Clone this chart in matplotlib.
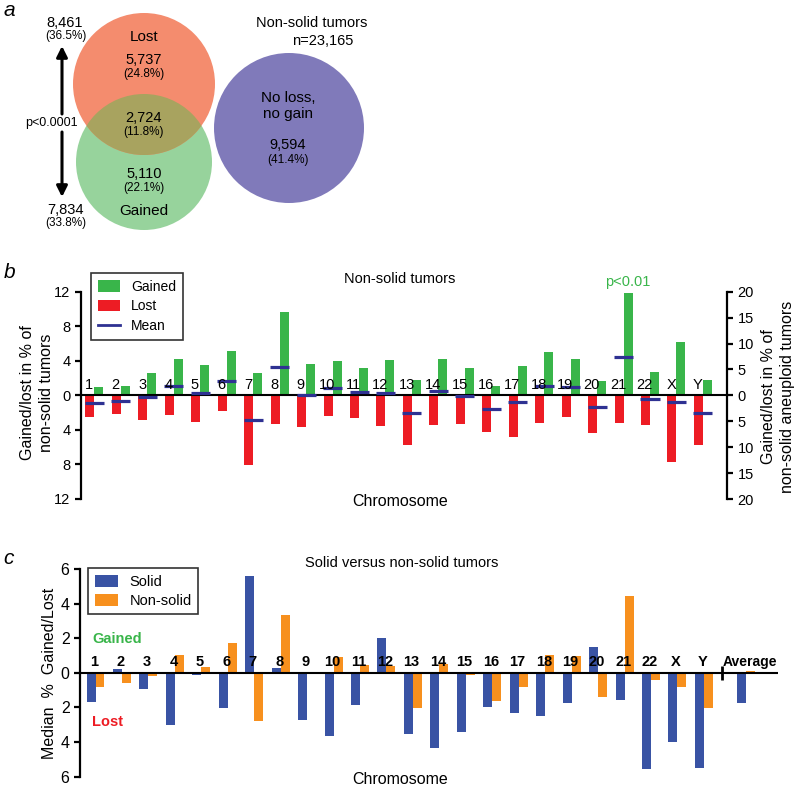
import numpy as np
import matplotlib
matplotlib.use('Agg')
import matplotlib.pyplot as plt
from matplotlib.patches import Circle, Patch
from matplotlib.lines import Line2D

plt.rcParams['font.family'] = ['Liberation Sans', 'DejaVu Sans']

# panel a: Venn counts
venn_lost = ('5,737', '(24.8%)')
venn_both = ('2,724', '(11.8%)')
venn_gained = ('5,110', '(22.1%)')
venn_none = ('9,594', '(41.4%)')
total_lost = ('8,461', '(36.5%)')
total_gained = ('7,834', '(33.8%)')

# panel b: non-solid tumors, % gained / lost per chromosome
chroms = [str(i) for i in range(1, 23)] + ['X', 'Y']
gained = [1.0, 1.1, 2.55, 4.2, 3.55, 5.1, 2.6, 9.7, 3.6, 4.0, 3.2, 4.1,
          1.8, 4.25, 3.2, 1.05, 3.35, 5.0, 4.2, 1.7, 11.85, 2.75, 6.2, 1.75]
lost = [2.5, 2.2, 2.8, 2.3, 3.1, 1.85, 8.1, 3.3, 3.7, 2.4, 2.6, 3.55,
        5.8, 3.4, 3.3, 4.2, 4.8, 3.15, 2.5, 4.35, 3.2, 3.45, 7.7, 5.75]
mean = [-0.85, -0.6, -0.2, 1.1, 0.3, 1.65, -2.85, 3.3, 0.0, 0.9, 0.4, 0.3,
        -2.0, 0.55, -0.1, -1.6, -0.75, 1.05, 0.95, -1.35, 4.4, -0.4, -0.75, -2.1]

# panel c: median % gained (+) / lost (-), solid vs non-solid
solid = [-1.7, 0.2, -0.95, -3.0, -0.15, -2.05, 5.6, 0.27, -2.7, -3.65, -1.84, 2.03,
         -3.55, -4.35, -3.42, -1.95, -2.32, -2.47, -1.72, 1.47, -1.58, -5.57, -3.98, -5.49]
nonsolid = [-0.83, -0.58, -0.17, 1.06, 0.33, 1.72, -2.8, 3.36, -0.02, 0.93, 0.43, 0.37,
            -2.03, 0.52, -0.14, -1.62, -0.81, 1.02, 0.95, -1.39, 4.42, -0.39, -0.81, -2.05]
avg_solid = -1.76
avg_nonsolid = 0.13

GREEN = '#39b54a'
RED = '#ed1c24'
NAVY = '#2e3192'
BLUE = '#3953a4'
ORANGE = '#f7901e'

W, H = 800, 788
fig = plt.figure(figsize=(W / 100, H / 100), dpi=100)


def fx(px):
    return px / W


def fy(py):
    return 1 - py / H


# ---------------- panel a ----------------
axa = fig.add_axes([0, fy(240), fx(400), 240 / H])
axa.set_xlim(0, 400)
axa.set_ylim(240, 0)
axa.axis('off')

g = Circle((144, 162), 68, facecolor='#97d39c', edgecolor='none')
l = Circle((144, 84), 71, facecolor='#f48c6e', edgecolor='none')
axa.add_patch(g)
axa.add_patch(l)
ov = Circle((144, 162), 68, facecolor='#a8a35f', edgecolor='none')
axa.add_patch(ov)
ov.set_clip_path(l)
axa.add_patch(Circle((289, 128), 75, facecolor='#807aba', edgecolor='none'))

big, small = 10.5, 8.5
axa.text(144, 37, 'Lost', ha='center', va='center', fontsize=11)
axa.text(144, 60, venn_lost[0], ha='center', va='center', fontsize=big)
axa.text(144, 74, venn_lost[1], ha='center', va='center', fontsize=small)
axa.text(144, 118, venn_both[0], ha='center', va='center', fontsize=big)
axa.text(144, 132, venn_both[1], ha='center', va='center', fontsize=small)
axa.text(144, 174, venn_gained[0], ha='center', va='center', fontsize=big)
axa.text(144, 188, venn_gained[1], ha='center', va='center', fontsize=small)
axa.text(144, 211, 'Gained', ha='center', va='center', fontsize=11)
axa.text(288, 98, 'No loss,', ha='center', va='center', fontsize=11)
axa.text(288, 114, 'no gain', ha='center', va='center', fontsize=11)
axa.text(288, 145, venn_none[0], ha='center', va='center', fontsize=big)
axa.text(288, 160, venn_none[1], ha='center', va='center', fontsize=small)
axa.text(312, 23, 'Non-solid tumors', ha='center', va='center', fontsize=10.5)
axa.text(323, 41, 'n=23,165', ha='center', va='center', fontsize=10.5)

axa.text(65, 23, total_lost[0], ha='center', va='center', fontsize=big)
axa.text(66, 36, total_lost[1], ha='center', va='center', fontsize=small)
axa.text(65, 210, total_gained[0], ha='center', va='center', fontsize=big)
axa.text(66, 223, total_gained[1], ha='center', va='center', fontsize=small)
axa.text(51, 123, 'p<0.0001', ha='center', va='center', fontsize=9)
arrow = dict(arrowstyle='-|>', lw=2.2, color='black', mutation_scale=16, shrinkA=0, shrinkB=0)
axa.annotate('', xy=(62, 46), xytext=(62, 114), arrowprops=arrow)
axa.annotate('', xy=(62, 197), xytext=(62, 132), arrowprops=arrow)

# ---------------- panel b ----------------
pos = np.arange(1, 25)
axb = fig.add_axes([fx(81), fy(499), fx(727 - 81), (499 - 291.7) / H])
bw = 0.34
axb.bar(pos + bw / 2, gained, width=bw, color=GREEN, zorder=2)
axb.bar(pos - bw / 2, -np.array(lost), width=bw, color=RED, zorder=2)
axb.hlines(mean, pos - 0.36, pos + 0.36, color=NAVY, lw=2.3, zorder=4)
axb.axhline(0, color='black', lw=1.5, zorder=3)
for p, c in zip(pos, chroms):
    axb.text(p - 0.2, 1.15, c, ha='center', va='center', fontsize=10.5, zorder=5)
axb.set_xlim(0.49, 24.91)
axb.set_ylim(-12, 12)
axb.set_xticks([])
axb.set_yticks([-12, -8, -4, 0, 4, 8, 12])
axb.set_yticklabels(['12', '8', '4', '0', '4', '8', '12'])
for s in ['top', 'right', 'bottom']:
    axb.spines[s].set_visible(False)
axb.spines['left'].set_linewidth(1.6)
axb.tick_params(axis='y', width=1.6, length=4, labelsize=10.5)

axb2 = axb.twinx()
axb2.set_ylim(-20, 20)
axb2.set_yticks(np.arange(-20, 21, 5))
axb2.set_yticklabels([str(abs(v)) for v in range(-20, 21, 5)])
for s in ['top', 'left', 'bottom']:
    axb2.spines[s].set_visible(False)
axb2.spines['right'].set_linewidth(1.6)
axb2.tick_params(axis='y', width=1.6, length=4, labelsize=10.5)

handles = [Patch(facecolor=GREEN, label='Gained'),
           Patch(facecolor=RED, label='Lost'),
           Line2D([], [], color=NAVY, lw=2, label='Mean')]
leg = axb.legend(handles=handles, loc='upper left', bbox_to_anchor=(fx(91), fy(273)),
                 bbox_transform=fig.transFigure, borderaxespad=0, fancybox=False,
                 edgecolor='black', fontsize=10, handlelength=1.6, handleheight=0.9,
                 labelspacing=0.4, borderpad=0.5)
leg.get_frame().set_linewidth(1.2)
leg.set_zorder(10)

fig.text(fx(400), fy(279), 'Non-solid tumors', ha='center', va='center', fontsize=10.5)
fig.text(fx(628), fy(282), 'p<0.01', ha='center', va='center', fontsize=10.5, color=GREEN)
fig.text(fx(400), fy(502), 'Chromosome', ha='center', va='center', fontsize=11.5)
fig.text(fx(37), fy(393), 'Gained/lost in % of\nnon-solid tumors', rotation=90,
         ha='center', va='center', multialignment='center', fontsize=11.5, linespacing=1.35)
fig.text(fx(778), fy(397), 'Gained/lost in % of\nnon-solid aneuploid tumors', rotation=90,
         ha='center', va='center', multialignment='center', fontsize=11.5, linespacing=1.35)

# ---------------- panel c ----------------
axc = fig.add_axes([fx(80), fy(776.7), fx(778 - 80), (776.7 - 569) / H])
axc.bar(pos - bw / 2, solid, width=bw, color=BLUE, zorder=2)
axc.bar(pos + bw / 2, nonsolid, width=bw, color=ORANGE, zorder=2)
avg_pos = 25.6
axc.bar([avg_pos - bw / 2], [avg_solid], width=bw, color=BLUE, zorder=2)
axc.bar([avg_pos + bw / 2], [avg_nonsolid], width=bw, color=ORANGE, zorder=2)
axc.axhline(0, color='black', lw=1.5, zorder=3)
axc.vlines(24.67, -0.4, 0.4, color='black', lw=2, zorder=3)
for p, c in zip(pos, chroms):
    axc.text(p - 0.05, 0.62, c, ha='center', va='center', fontsize=10.5,
             fontweight='bold', zorder=5)
axc.text(avg_pos + 0.12, 0.62, 'Average', ha='center', va='center', fontsize=10,
         fontweight='bold', zorder=5)
axc.set_xlim(0.414, 26.8)
axc.set_ylim(-6, 6)
axc.set_xticks([])
axc.set_yticks([-6, -4, -2, 0, 2, 4, 6])
axc.set_yticklabels(['6', '4', '2', '0', '2', '4', '6'])
for s in ['top', 'right', 'bottom']:
    axc.spines[s].set_visible(False)
axc.spines['left'].set_linewidth(1.6)
axc.tick_params(axis='y', width=1.6, length=4, labelsize=11.5)

handles = [Patch(facecolor=BLUE, label='Solid'),
           Patch(facecolor=ORANGE, label='Non-solid')]
leg = axc.legend(handles=handles, loc='upper left', bbox_to_anchor=(fx(88), fy(568)),
                 bbox_transform=fig.transFigure, borderaxespad=0, fancybox=False,
                 edgecolor='black', fontsize=10.5, handlelength=1.6, handleheight=0.9,
                 labelspacing=0.35, borderpad=0.45)
leg.get_frame().set_linewidth(1.2)
leg.set_zorder(10)

fig.text(fx(402), fy(563), 'Solid versus non-solid tumors', ha='center', va='center', fontsize=10.5)
fig.text(fx(400), fy(779), 'Chromosome', ha='center', va='center', fontsize=11.5)
fig.text(fx(50), fy(673), 'Median  %  Gained/Lost', rotation=90, ha='center',
         va='center', fontsize=11.5)
fig.text(fx(92), fy(639), 'Gained', ha='left', va='center', fontsize=10.5,
         fontweight='bold', color=GREEN)
fig.text(fx(92), fy(722), 'Lost', ha='left', va='center', fontsize=10.5,
         fontweight='bold', color=RED)

# panel letters
for letter, x, y in [('a', 9, 11), ('b', 10, 273), ('c', 9, 558)]:
    fig.text(fx(x), fy(y), letter, ha='center', va='center', fontsize=15, style='italic')

fig.savefig('out.png', dpi=100)
